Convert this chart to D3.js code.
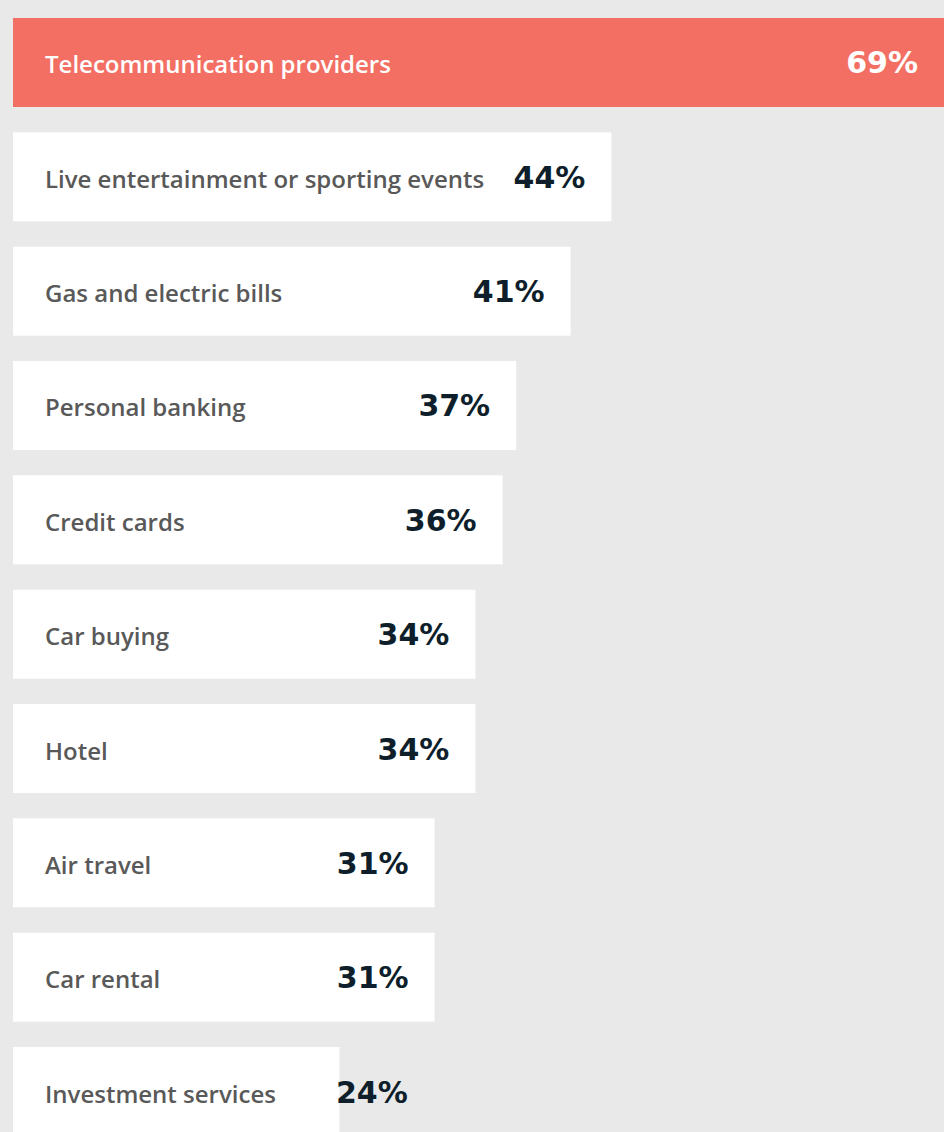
<!DOCTYPE html>
<html>
<head>
<meta charset="utf-8">
<script src="https://cdn.jsdelivr.net/npm/d3@7"></script>
<style>
  html, body { margin: 0; padding: 0; background: #e9e9e9; }
  svg { display: block; }
</style>
</head>
<body>
<div id="chart"></div>
<script>
const categories = [
  "Telecommunication providers",
  "Live entertainment or sporting events",
  "Gas and electric bills",
  "Personal banking",
  "Credit cards",
  "Car buying",
  "Hotel",
  "Air travel",
  "Car rental",
  "Investment services"
];
const values = [69, 44, 41, 37, 36, 34, 34, 31, 31, 24];
const highlightIndex = 0;

const W = 944, H = 1132;
const svg = d3.select("#chart").append("svg")
  .attr("width", W).attr("height", H);

svg.append("rect").attr("width", W).attr("height", H).attr("fill", "#e9e9e9");

const x = d3.scaleLinear().domain([0, 100]).range([13, 13 + 1360]);
const y = d3.scaleBand().domain(categories).range([18, 1136])
  .paddingInner(0.2216).paddingOuter(0);

const data = categories.map((c, i) => ({ c, v: values[i], i }));

const g = svg.selectAll("g.bar").data(data).join("g").attr("class", "bar");

g.append("rect")
  .attr("x", x(0))
  .attr("y", d => y(d.c))
  .attr("width", d => x(d.v) - x(0))
  .attr("height", y.bandwidth())
  .attr("fill", d => d.i === highlightIndex ? "#f36f63" : "#ffffff");

const labels = g.append("text")
  .attr("x", x(0) + 32)
  .attr("y", d => y(d.c) + y.bandwidth() / 2 + 11)
  .attr("font-family", "'Open Sans', sans-serif")
  .attr("font-weight", 600)
  .attr("font-size", 24)
  .attr("fill", d => d.i === highlightIndex ? "#ffffff" : "#595959")
  .text(d => d.c);

const vals = g.append("text")
  .attr("y", d => y(d.c) + y.bandwidth() / 2 + 11)
  .attr("text-anchor", "end")
  .attr("font-family", "'DejaVu Sans', sans-serif")
  .attr("font-weight", 700)
  .attr("font-size", 30)
  .attr("fill", d => d.i === highlightIndex ? "#ffffff" : "#0e1f2b")
  .text(d => d.v + "%");

vals.each(function(d, i) {
  const labelEnd = x(0) + 32 + labels.nodes()[i].getComputedTextLength();
  const w = this.getComputedTextLength();
  const inside = Math.min(x(d.v), W) - 26;
  const end = (labelEnd + 20 + w > inside) ? labelEnd + 60 + w : inside;
  d3.select(this).attr("x", end);
});
</script>
</body>
</html>
